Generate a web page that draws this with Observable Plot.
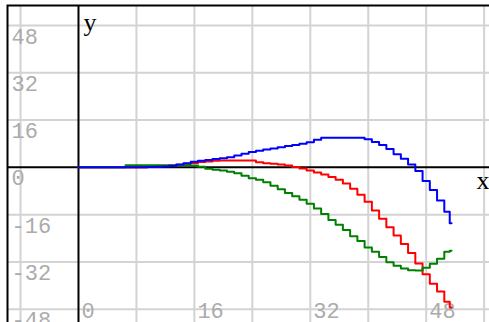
<!DOCTYPE html>
<html><head><meta charset="utf-8">
<script src="https://cdn.jsdelivr.net/npm/d3@7"></script>
<script src="https://cdn.jsdelivr.net/npm/@observablehq/plot@0.6"></script>
<style>html,body{margin:0;padding:0;overflow:hidden;background:#fff}svg{display:block}</style>
</head><body><div id="chart"></div>
<script>
const xs = [0,1,2,3,4,5,6,7,8,9,10,11,12,13,14,15,16,17,18,19,20,21,22,23,24,25,26,27,28,29,30,31,32,33,34,35,36,37,38,39,40,41,42,43,44,45,46,47,48,49,50,51,51.5];
const blueY = [0,0,0,0,0,0,0,0,0,0,0.1,0.2,0.3,0.5,1.0,1.4,1.9,2.2,2.5,2.8,3.1,3.4,4.0,4.6,5.2,5.6,6.0,6.4,6.8,7.2,7.6,8.0,8.5,9.3,10.0,10.0,10.0,10.0,10.0,10.0,9.5,8.6,7.6,6.2,4.4,2.9,1.0,-1.2,-4.6,-7.7,-11.2,-15.0,-18.9];
const redY = [0,0,0,0,0,0,0,0,0,0,0.1,0.3,0.5,0.7,0.9,1.2,1.5,1.8,2.0,2.2,2.3,2.3,2.3,2.3,2.3,1.7,1.4,1.2,1.0,0.6,0.1,-0.4,-1.1,-1.7,-2.4,-3.3,-4.2,-5.5,-7.2,-9.3,-11.6,-14.6,-17.4,-20.3,-23.1,-25.9,-29.0,-32.5,-36.2,-39.4,-42.0,-45.5,-47.4];
const greenY = [0,0,0,0,0,0,0,0.7,0.7,0.7,0.7,0.7,0.7,0.7,0.7,0.7,0.6,0.2,-0.5,-0.8,-1.1,-1.5,-2.0,-2.8,-3.7,-4.2,-5.0,-6.2,-7.4,-8.7,-9.8,-11.0,-12.3,-13.9,-15.8,-17.8,-19.4,-21.2,-23.3,-24.9,-27.1,-28.6,-30.3,-32.1,-33.3,-34.2,-34.8,-34.9,-34.0,-32.6,-30.9,-28.6,-28.2];
const seriesNames = ["red", "green", "blue"];
const seriesColors = ["#ff0000", "#008000", "#0000ff"];
const seriesValues = [redY, greenY, blueY];
const xGrid = [-8, 8, 16, 24, 32, 40, 48, 56];
const yGrid = [-48, -32, -16, 16, 32, 48];
const xTickLabels = [0, 16, 32, 48];
const yTickLabels = [48, 32, 16, 0, -16, -32, -48];

const lines = seriesNames.map((n, k) =>
  Plot.line(xs.map((x, i) => ({x, y: seriesValues[k][i]})),
    {x: "x", y: "y", stroke: seriesColors[k], strokeWidth: 2, curve: "step"}));

const chart = Plot.plot({
  width: 489, height: 322,
  marginLeft: 7, marginTop: 5, marginRight: 0, marginBottom: 0,
  x: {domain: [-9.80, 56.74], axis: null},
  y: {domain: [-52.5, 54.77], axis: null},
  style: {fontFamily: "'Liberation Mono', monospace", background: "#fff"},
  marks: [
    Plot.ruleX(xGrid, {x: d => d, stroke: "#d3d3d3", strokeWidth: 2}),
    Plot.ruleY(yGrid, {y: d => d, stroke: "#d3d3d3", strokeWidth: 2}),
    Plot.text(yTickLabels, {y: d => d, text: d => String(d), frameAnchor: "left", dx: 4, dy: 18, textAnchor: "start", lineAnchor: "bottom", fill: "#ababab", fontSize: 22}),
    Plot.text(xTickLabels, {x: d => d, text: d => String(d), frameAnchor: "bottom", dx: 3, dy: -5, textAnchor: "start", lineAnchor: "bottom", fill: "#ababab", fontSize: 22}),
    Plot.ruleX([0], {x: d => d, stroke: "#000", strokeWidth: 2}),
    Plot.ruleY([0], {y: d => d, stroke: "#000", strokeWidth: 2}),
    ...lines,
    Plot.text(["x"], {y: () => 0, text: d => d, frameAnchor: "right", textAnchor: "end", dy: 21.5, lineAnchor: "bottom", fontSize: 26, fill: "#000", fontFamily: "'Liberation Serif', serif"}),
    Plot.text(["y"], {x: () => 0, text: d => d, frameAnchor: "top", textAnchor: "start", dx: 5, dy: 25, lineAnchor: "bottom", fontSize: 26, fill: "#000", fontFamily: "'Liberation Serif', serif"}),
    Plot.frame({stroke: "#000", strokeWidth: 2, insetRight: -10, insetBottom: -10})
  ]
});
document.getElementById("chart").appendChild(chart);
</script>
</body></html>
